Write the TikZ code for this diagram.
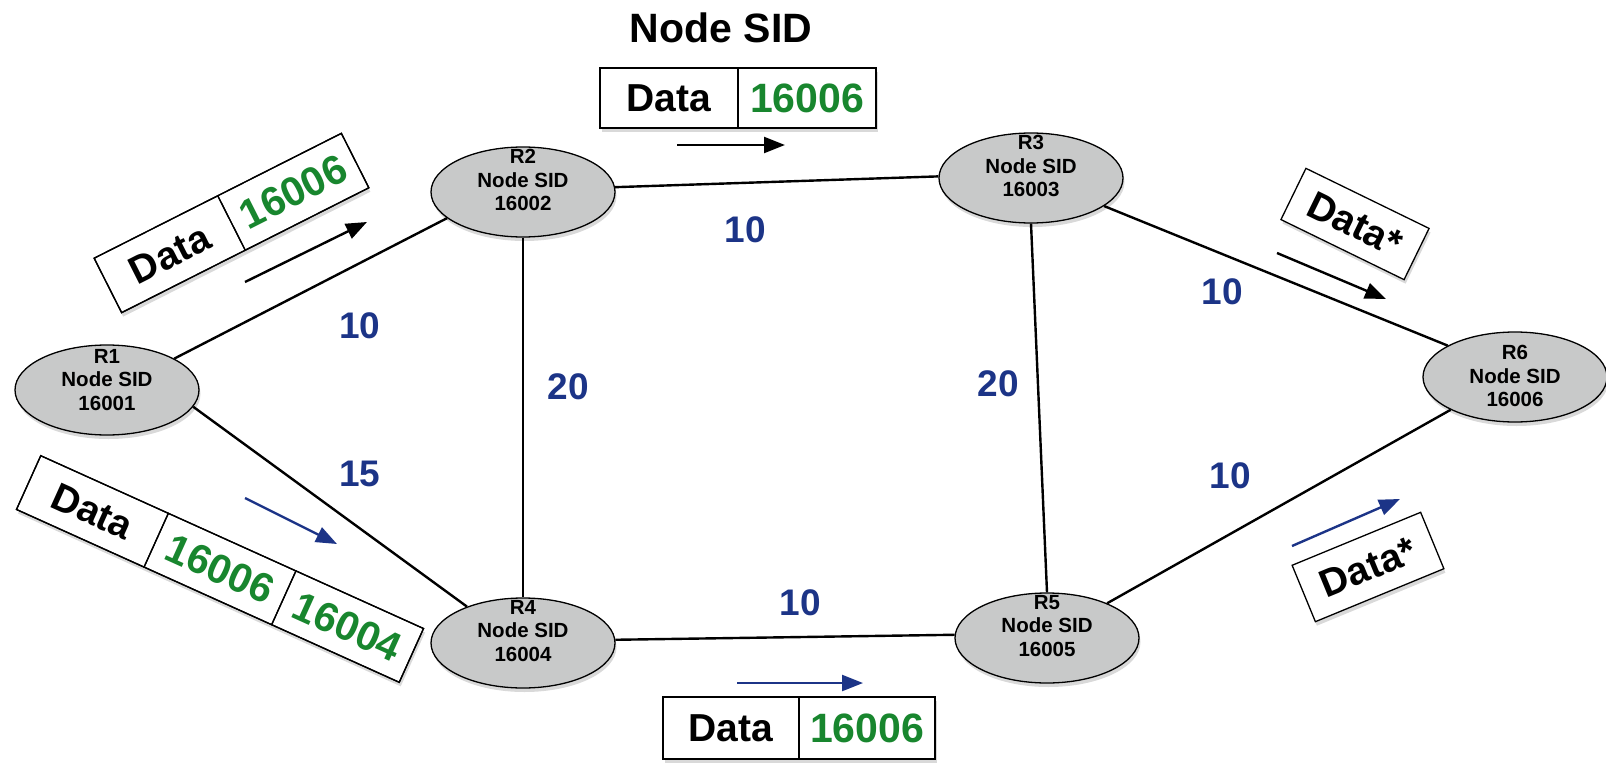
\documentclass[tikz,border=0pt]{standalone}
\usepackage{fontspec}
\setmainfont{Liberation Sans}
\usetikzlibrary{arrows.meta,shadows,shapes.geometric}
\definecolor{navy}{RGB}{28,52,135}
\definecolor{sidgreen}{RGB}{24,134,46}
\definecolor{nodegray}{RGB}{200,201,201}
\tikzset{
 router/.style={ellipse, draw=black, line width=1.3pt, fill=nodegray, minimum width=184pt, minimum height=90pt, inner sep=0pt,
   drop shadow={shadow xshift=1.5pt, shadow yshift=-4pt, opacity=0.3}},
 rtext/.style={align=center, font=\bfseries\fontsize{20.5}{23.5}\selectfont, inner sep=0pt},
 link/.style={line width=2.4pt},
 cost/.style={text=navy, font=\bfseries\fontsize{37}{37}\selectfont, inner sep=0pt},
 frame/.style={draw=black, line width=1.3pt, fill=white, inner sep=0pt,
   drop shadow={shadow xshift=1.5pt, shadow yshift=-4pt, opacity=0.3}},
 cell/.style={draw=black, line width=1.3pt, inner sep=0pt, font=\bfseries\fontsize{39}{39}\selectfont},
 sid/.style={cell, text=sidgreen, font=\bfseries\fontsize{41}{41}\selectfont},
 flow/.style={line width=2.4pt, -{Triangle[length=21pt,width=16pt]}},
}
\begin{document}
\begin{tikzpicture}[x=1pt,y=-1pt]
\useasboundingbox (0,0) rectangle (1606,765);
% routers
\node[router] (r1) at (107,390) {};
\node[router] (r2) at (523,192) {};
\node[router] (r3) at (1031,178) {};
\node[router] (r4) at (523,643) {};
\node[router] (r5) at (1047,638) {};
\node[router] (r6) at (1515,377) {};
\node[rtext] (r1t) at ([yshift=10pt]r1.center) {R1\\Node SID\\16001};
\node[rtext] (r2t) at ([yshift=12pt]r2.center) {R2\\Node SID\\16002};
\node[rtext] (r3t) at ([yshift=12pt]r3.center) {R3\\Node SID\\16003};
\node[rtext] (r4t) at ([yshift=12pt]r4.center) {R4\\Node SID\\16004};
\node[rtext] (r5t) at ([yshift=12pt]r5.center) {R5\\Node SID\\16005};
\node[rtext] (r6t) at ([yshift=1pt]r6.center) {R6\\Node SID\\16006};
% links
\draw[link] (r1.25) -- (r2.199);
\draw[link] (r1.-11) -- (r4.147);
\draw[link] (r2.3) -- (r3.179);
\draw[link] (r2.south) -- (r4.north);
\draw[link] (r3.south) -- (r5.north);
\draw[link] (r3.-21) -- (r6.155);
\draw[link] (r5.30) -- (r6.207);
\draw[link] (r4.2) -- (r5.178);
% costs
\node[cost] (c12) at (360,326) {10};
\node[cost] (c14) at (360,474) {15};
\node[cost] (c24) at (568,387) {20};
\node[cost] (c23) at (745,230) {10};
\node[cost] (c35) at (998,384) {20};
\node[cost] (c36) at (1222,292) {10};
\node[cost] (c56) at (1230,476) {10};
\node[cost] (c45) at (800,603) {10};
% title
\node[font=\bfseries\fontsize{41}{41}\selectfont] (title) at (721,28) {Node SID};
% top packet
\node[frame, minimum width=276pt, minimum height=60pt] (pt) at (738,98) {};
\node[cell, minimum width=138pt, minimum height=60pt] (pt1) at (669,98) {Data};
\node[sid, minimum width=138pt, minimum height=60pt] (pt2) at (807,98) {16006};
% bottom packet
\node[frame, minimum width=272pt, minimum height=62pt] (pb) at (799,728) {};
\node[cell, minimum width=136pt, minimum height=62pt] (pb1) at (731,728) {Data};
\node[sid, minimum width=136pt, minimum height=62pt] (pb2) at (867,728) {16006};
% packet A (R1 -> R2)
\begin{scope}[shift={(231.5,223)}, rotate=26.8, transform shape]
\node[frame, minimum width=277pt, minimum height=61pt] (pa) at (0,0) {};
\node[cell, minimum width=138.5pt, minimum height=61pt] (pa1) at (-69.25,0) {Data};
\node[sid, minimum width=138.5pt, minimum height=61pt] (pa2) at (69.25,0) {16006};
\end{scope}
% packet B (R1 -> R4)
\begin{scope}[shift={(220,569)}, rotate=-24.3, transform shape]
\node[frame, minimum width=420pt, minimum height=59pt] (pbb) at (0,0) {};
\node[cell, minimum width=140pt, minimum height=59pt] (pbb1) at (-140,0) {Data};
\node[sid, minimum width=140pt, minimum height=59pt] (pbb2) at (0,0) {16006};
\node[sid, minimum width=140pt, minimum height=59pt] (pbb3) at (140,0) {16004};
\end{scope}
% packet C (R3 -> R6)
\begin{scope}[shift={(1355,224)}, rotate=-26, transform shape]
\node[frame, cell, minimum width=137pt, minimum height=57pt] (pc) at (0,0) {Data*};
\end{scope}
% packet D (R5 -> R6)
\begin{scope}[shift={(1368,567)}, rotate=22.4, transform shape]
\node[frame, cell, minimum width=139pt, minimum height=61pt] (pd) at (0,0) {Data*};
\end{scope}
% direction arrows
\coordinate (at0) at (677,145); \coordinate (at1) at (785,145);
\coordinate (aa0) at (245,282); \coordinate (aa1) at (367,222);
\coordinate (ab0) at (245,498); \coordinate (ab1) at (337,544);
\coordinate (ac0) at (1277,253); \coordinate (ac1) at (1386,299);
\coordinate (ad0) at (1292,546); \coordinate (ad1) at (1400,499);
\coordinate (ae0) at (737,683); \coordinate (ae1) at (863,683);
\draw[flow] (at0) -- (at1);
\draw[flow] (aa0) -- (aa1);
\draw[flow, navy] (ab0) -- (ab1);
\draw[flow] (ac0) -- (ac1);
\draw[flow, navy] (ad0) -- (ad1);
\draw[flow, navy] (ae0) -- (ae1);
\end{tikzpicture}
\end{document}
